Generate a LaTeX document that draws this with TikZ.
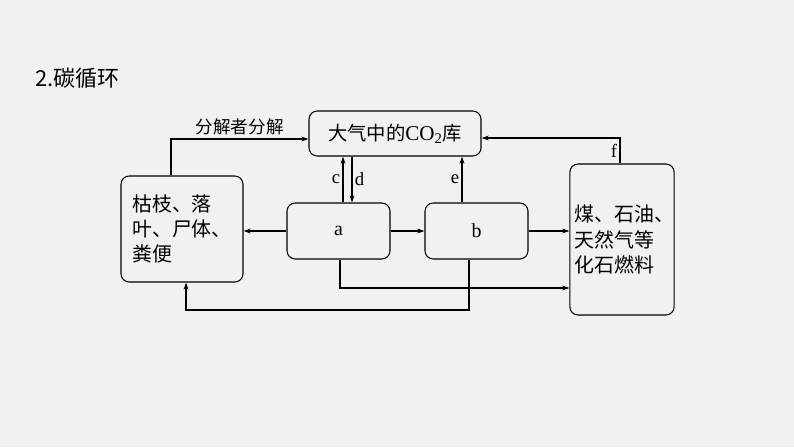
\documentclass[tikz,border=0pt]{standalone}
\usepackage{fontspec}
\setmainfont{Liberation Serif}
\newfontfamily\cjk{Noto Sans CJK SC}
\usetikzlibrary{arrows.meta}
\definecolor{pagegray}{RGB}{241,241,241}

\begin{document}
\begin{tikzpicture}[x=0.03cm, y=-0.03cm,
    box/.style={rectangle, draw, rounded corners=7pt, line width=0.9pt, inner sep=0pt, align=left},
    arrow/.style={-{Stealth[length=6pt,width=4pt]}, line width=0.9pt},
    lbl/.style={font=\fontsize{16}{18}\selectfont, inner sep=2pt}
]
\fill[pagegray] (0,0) rectangle (794,447);
\useasboundingbox (0,0) rectangle (794,447);

% title
\node[anchor=west, font=\cjk\fontsize{18.8}{22}\selectfont] (title) at (31,78) {2.碳循环};

% boxes
\node[box, minimum width=5.16cm, minimum height=1.35cm, font=\fontsize{18}{20}\selectfont] (co2) at (395,133.5) {{\cjk\fontsize{16.5}{18}\selectfont 大气中的}CO\textsubscript{2}{\cjk\fontsize{16.5}{18}\selectfont 库}};
\node[box, minimum width=3.66cm, minimum height=3.18cm, font=\cjk\fontsize{17}{21.5}\selectfont] (litter) at (182,229) {枯枝、落\\叶、尸体、\\粪便};
\node[box, minimum width=3.09cm, minimum height=1.68cm, font=\fontsize{17}{19}\selectfont] (a) at (338.5,231) {a};
\node[box, minimum width=3.09cm, minimum height=1.68cm, font=\fontsize{17}{19}\selectfont] (b) at (476.5,231) {b};
\node[box, minimum width=3.12cm, minimum height=4.53cm, font=\cjk\fontsize{17}{21.5}\selectfont] (fossil) at (622,239.5) {\hspace{4pt}煤、石油、\\\hspace{4pt}天然气等\\\hspace{4pt}化石燃料};

% exchange with the atmosphere
\draw[arrow] ([xshift=0.135cm]a.north) -- ([xshift=0.135cm]a.north |- co2.south) node[lbl, left, midway] {c};
\draw[arrow] ([xshift=0.405cm]a.north |- co2.south) -- ([xshift=0.405cm]a.north) node[lbl, right, midway] {d};
\draw[arrow] ([xshift=-0.435cm]b.north) -- ([xshift=-0.435cm]b.north |- co2.south) node[lbl, left, midway] {e};
\draw[arrow] ([xshift=-0.06cm]fossil.north) |- ([yshift=-0.135cm]co2.east) node[lbl, left, pos=0.25] {f};
\draw[arrow] ([xshift=-0.33cm]litter.north) |- ([yshift=-0.165cm]co2.west) node[above, pos=0.75, inner sep=3pt, font=\cjk\fontsize{15}{17}\selectfont] {分解者分解};

% flows between the boxes
\draw[arrow] (a.west) -- (a.west -| litter.east);
\draw[arrow] (a.east) -- (b.west);
\draw[arrow] (b.east) -- (b.east -| fossil.west);

\coordinate (lowa) at (340,288);
\coordinate (lowb) at (469,310);
\draw[arrow] (a.south -| lowa) -- (lowa) -- (lowa -| fossil.west);
\draw[arrow] (b.south -| lowb) -- (lowb) -| ([xshift=0.12cm]litter.south);

\end{tikzpicture}
\end{document}
